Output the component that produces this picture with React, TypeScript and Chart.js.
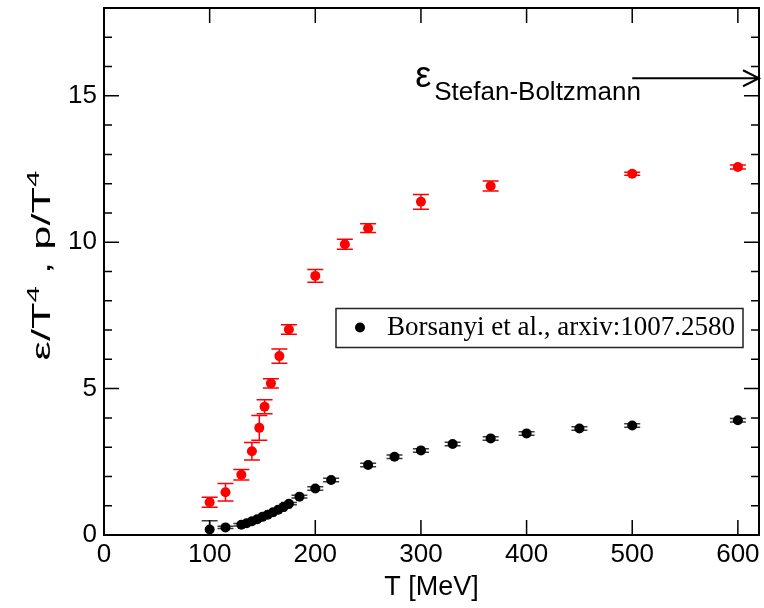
import React, { useEffect, useRef } from "react";
import { Chart, registerables } from "chart.js";

Chart.register(...registerables);

// ---- data ----
const epsTemps = [100, 115, 130, 140, 147, 152, 158, 166, 175, 200, 228, 250, 300, 366, 500, 600];
const epsValues = [1.12, 1.46, 2.06, 2.86, 3.66, 4.38, 5.18, 6.11, 7.02, 8.85, 9.93, 10.48, 11.38, 11.92, 12.34, 12.57];
const epsErrors = [0.17, 0.3, 0.18, 0.3, 0.42, 0.24, 0.16, 0.24, 0.16, 0.22, 0.17, 0.15, 0.25, 0.17, 0.05, 0.07];

const pTemps = [100, 115, 130, 135, 140, 145, 150, 155, 160, 165, 170, 175, 185, 200, 215, 250, 275, 300, 330, 366, 400, 450, 500, 600];
const pValues = [0.19, 0.26, 0.35, 0.4, 0.47, 0.54, 0.62, 0.69, 0.78, 0.86, 0.96, 1.07, 1.31, 1.59, 1.88, 2.39, 2.67, 2.89, 3.11, 3.3, 3.47, 3.64, 3.74, 3.92];
const pErrors = [0.3, 0.04, 0.04, 0.04, 0.04, 0.04, 0.04, 0.04, 0.04, 0.04, 0.04, 0.04, 0.05, 0.06, 0.06, 0.06, 0.06, 0.06, 0.06, 0.06, 0.06, 0.06, 0.06, 0.06];

const xTickValues = [0, 100, 200, 300, 400, 500, 600];
const yTickValues = [0, 5, 10, 15];
const yMinorValues = [1, 2, 3, 4, 6, 7, 8, 9, 11, 12, 13, 14, 16, 17];
const xMin = 0;
const xMax = 620;
const yMin = 0;
const yMax = 18;

const stefanBoltzmann = 15.6;
const sbArrowStart = 500;
const legendLabel = "Borsanyi et al., arxiv:1007.2580";
const xTitle = "T [MeV]";
// y title pieces: [text, isSuperscript]
const yTitleParts: [string, boolean][] = [
  ["ε/T", false],
  ["4", true],
  [" , p/T", false],
  ["4", true],
];

const SANS = '"Liberation Sans", Arial, sans-serif';

const errorBarsPlugin = {
  id: "errorBars",
  beforeDatasetsDraw(chart: any) {
    const ctx = chart.ctx;
    const xs = chart.scales.x;
    const ys = chart.scales.y;
    const sets = [
      { t: epsTemps, v: epsValues, e: epsErrors, color: "#ff0000" },
      { t: pTemps, v: pValues, e: pErrors, color: "#3a3a3a" },
    ];
    ctx.save();
    ctx.beginPath();
    ctx.rect(chart.chartArea.left, chart.chartArea.top, chart.chartArea.right - chart.chartArea.left, chart.chartArea.bottom - chart.chartArea.top);
    ctx.clip();
    for (const s of sets) {
      ctx.strokeStyle = s.color;
      ctx.lineWidth = 1.5;
      for (let i = 0; i < s.t.length; i++) {
        const px = xs.getPixelForValue(s.t[i]);
        const lo = ys.getPixelForValue(s.v[i] - s.e[i]);
        const hi = ys.getPixelForValue(s.v[i] + s.e[i]);
        ctx.beginPath();
        ctx.moveTo(px, lo);
        ctx.lineTo(px, hi);
        ctx.moveTo(px - 8, lo);
        ctx.lineTo(px + 8, lo);
        ctx.moveTo(px - 8, hi);
        ctx.lineTo(px + 8, hi);
        ctx.stroke();
      }
    }
    ctx.restore();
  },
};

const framePlugin = {
  id: "frameTicks",
  afterDraw(chart: any) {
    const ctx = chart.ctx;
    const { left, right, top, bottom } = chart.chartArea;
    const xs = chart.scales.x;
    const ys = chart.scales.y;
    ctx.save();
    ctx.strokeStyle = "#000";
    ctx.lineWidth = 1.5;
    ctx.beginPath();
    for (const v of xTickValues) {
      const px = xs.getPixelForValue(v);
      ctx.moveTo(px, bottom);
      ctx.lineTo(px, bottom - 15);
      ctx.moveTo(px, top);
      ctx.lineTo(px, top + 15);
    }
    for (const v of yTickValues) {
      const py = ys.getPixelForValue(v);
      ctx.moveTo(left, py);
      ctx.lineTo(left + 15, py);
      ctx.moveTo(right, py);
      ctx.lineTo(right - 15, py);
    }
    for (const v of yMinorValues) {
      const py = ys.getPixelForValue(v);
      ctx.moveTo(left, py);
      ctx.lineTo(left + 8, py);
      ctx.moveTo(right, py);
      ctx.lineTo(right - 8, py);
    }
    ctx.stroke();
    ctx.lineWidth = 2;
    ctx.strokeRect(left, top, right - left, bottom - top);

    // Stefan-Boltzmann arrow
    const yPix = ys.getPixelForValue(stefanBoltzmann);
    const x0 = xs.getPixelForValue(sbArrowStart);
    const x1 = xs.getPixelForValue(xMax);
    ctx.lineWidth = 2;
    ctx.beginPath();
    ctx.moveTo(x0, yPix);
    ctx.lineTo(x1, yPix);
    ctx.moveTo(x1 - 16, yPix - 8);
    ctx.lineTo(x1, yPix);
    ctx.lineTo(x1 - 16, yPix + 8);
    ctx.stroke();
    ctx.fillStyle = "#000";
    ctx.textAlign = "left";
    ctx.textBaseline = "alphabetic";
    ctx.font = "36px " + SANS;
    ctx.fillText("ε", x0 - 217, yPix + 9);
    ctx.font = "26px " + SANS;
    ctx.fillText("Stefan-Boltzmann", x0 - 198, yPix + 22);

    // legend box
    const lx = left + 232;
    const ly = top + 300.5;
    const lw = 407;
    const lh = 39;
    ctx.fillStyle = "#fff";
    ctx.fillRect(lx, ly, lw, lh);
    ctx.strokeStyle = "#222";
    ctx.lineWidth = 1.5;
    ctx.strokeRect(lx, ly, lw, lh);
    ctx.fillStyle = "#000";
    ctx.beginPath();
    ctx.arc(lx + 24, ly + 19, 5, 0, Math.PI * 2);
    ctx.fill();
    ctx.font = '27px "Liberation Serif", "Times New Roman", serif';
    ctx.fillText(legendLabel, lx + 51, ly + 26.5);

    // y-axis title (rotated, with superscripts)
    const mainFont = "25px " + SANS;
    const supFont = "17px " + SANS;
    let total = 0;
    for (const [txt, sup] of yTitleParts) {
      ctx.font = sup ? supFont : mainFont;
      total += ctx.measureText(txt).width;
    }
    const target = 190;
    const sx = target / total;
    const cy = (top + bottom) / 2 - 6;
    ctx.translate(50, cy);
    ctx.rotate(-Math.PI / 2);
    ctx.scale(sx, 1);
    let cx = -total / 2;
    for (const [txt, sup] of yTitleParts) {
      ctx.font = sup ? supFont : mainFont;
      ctx.fillText(txt, cx, sup ? -11 : 0);
      cx += ctx.measureText(txt).width;
    }
    ctx.restore();
  },
};

export default function App() {
  const canvasRef = useRef<HTMLCanvasElement | null>(null);

  useEffect(() => {
    const canvas = canvasRef.current;
    if (!canvas) return;
    const tickFont = { family: SANS, size: 26 };
    const chart = new Chart(canvas, {
      type: "scatter",
      data: {
        datasets: [
          {
            label: "eps/T^4",
            data: epsTemps.map((t, i) => ({ x: t, y: epsValues[i] })),
            backgroundColor: "#ff0000",
            borderColor: "#ff0000",
            pointRadius: 5,
            pointBorderWidth: 0,
          },
          {
            label: legendLabel,
            data: pTemps.map((t, i) => ({ x: t, y: pValues[i] })),
            backgroundColor: "#000000",
            borderColor: "#000000",
            pointRadius: 5,
            pointBorderWidth: 0,
          },
        ],
      },
      options: {
        responsive: false,
        animation: false,
        devicePixelRatio: 1,
        layout: { padding: { top: 8, right: 2, left: 0, bottom: 0 } },
        plugins: {
          legend: { display: false },
          tooltip: { enabled: false },
        },
        scales: {
          x: {
            type: "linear",
            min: xMin,
            max: xMax,
            afterBuildTicks: (scale: any) => {
              scale.ticks = xTickValues.map((v) => ({ value: v }));
            },
            afterFit: (scale: any) => {
              scale.height = 73;
              scale.paddingLeft = 0;
              scale.paddingRight = 0;
            },
            grid: { display: false, drawTicks: false },
            border: { display: false },
            ticks: { color: "#000", font: tickFont, padding: 4, maxRotation: 0 },
            title: {
              display: true,
              text: xTitle,
              color: "#000",
              font: { family: SANS, size: 27 },
              padding: { top: 0, bottom: 4 },
            },
          },
          y: {
            type: "linear",
            min: yMin,
            max: yMax,
            afterBuildTicks: (scale: any) => {
              scale.ticks = yTickValues.map((v) => ({ value: v }));
            },
            afterFit: (scale: any) => {
              scale.width = 104;
              scale.paddingTop = 0;
              scale.paddingBottom = 0;
            },
            grid: { display: false, drawTicks: false },
            border: { display: false },
            ticks: { color: "#000", font: tickFont, padding: 7 },
            title: { display: false },
          },
        },
      },
      plugins: [errorBarsPlugin, framePlugin],
    } as any);
    return () => chart.destroy();
  }, []);

  return (
    <div style={{ position: "absolute", left: 0, top: 0, width: 764, height: 608, background: "#fff" }}>
      <canvas ref={canvasRef} width={764} height={608} style={{ display: "block", width: 764, height: 608 }} />
    </div>
  );
}
